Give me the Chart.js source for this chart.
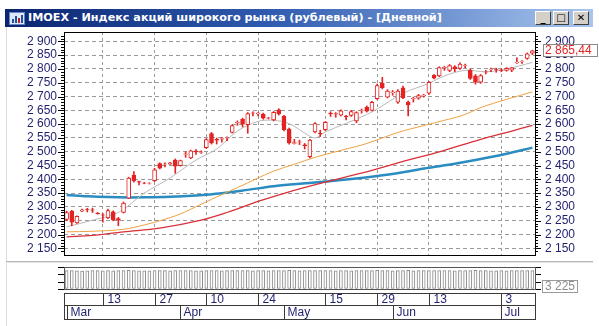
<!DOCTYPE html>
<html>
<head>
<meta charset="utf-8">
<script src="https://cdn.jsdelivr.net/npm/chart.js@4.4.0/dist/chart.umd.min.js"></script>
<style>
  body { margin: 0; background: #fff; }
  #wrap { position: relative; width: 599px; height: 326px; overflow: hidden; background: #fff; }
  #title { position: absolute; left: 5px; top: 9px; width: 588px; height: 18px;
    background: linear-gradient(to right, #0a2470 0%, #2f5bb0 45%, #a8c6ee 100%);
    color: #fff; font: bold 11.2px "DejaVu Sans", sans-serif; line-height: 18px; white-space: nowrap; }
  #title .txt { position: absolute; left: 23px; top: 0; }
  #icon { position: absolute; left: 4px; top: 3px; width: 14px; height: 11px; background: #dfe8f8; border: 1px solid #6a86c0; }
  #icon i { position: absolute; bottom: 1px; width: 2px; background: #2050a0; }
  .btn { position: absolute; top: 2px; width: 16px; height: 14px; background: #d4d0c8; box-sizing: border-box;
    border: 1px solid; border-color: #fff #404040 #404040 #fff; color: #000; font: bold 10px "DejaVu Sans"; line-height: 12px; text-align: center; }
  #sep { position: absolute; left: 6px; top: 261px; width: 587px; height: 1px; background: #b8b8b8; }
  #sep2 { position: absolute; left: 6px; top: 262px; width: 587px; height: 1px; background: #e4e4e4; }
  #edge { position: absolute; left: 6px; top: 27px; width: 1px; height: 299px; background: #dcdcdc; }
  canvas { position: absolute; left: 0; }
  #main { top: 22px; }
  #vol { top: 262px; }
</style>
</head>
<body>
<div id="wrap">
  <div id="edge"></div>
  <div id="title">
    <div id="icon"><i style="left:2px;height:4px"></i><i style="left:5px;height:7px"></i><i style="left:8px;height:5px;background:#c02020"></i><i style="left:11px;height:8px"></i></div>
    <span class="txt">IMOEX - Индекс акций широкого рынка (рублевый) - [Дневной]</span>
    <div class="btn" style="left:530px">_</div>
    <div class="btn" style="left:548px">□</div>
    <div class="btn" style="left:568px">✕</div>
  </div>
  <canvas id="main" width="599" height="240"></canvas>
  <div id="sep"></div><div id="sep2"></div>
  <canvas id="vol" width="599" height="64"></canvas>
</div>
<script>
// торговые дни 2023
const marDays = [1,2,3,6,7,9,10,13,14,15,16,17,20,21,22,23,24,27,28,29,30,31];
const aprDays = [3,4,5,6,7,10,11,12,13,14,17,18,19,20,21,24,25,26,27,28];
const mayDays = [2,3,4,5,8,10,11,12,15,16,17,18,19,22,23,24,25,26,29,30,31];
const junDays = [1,2,5,6,7,8,9,13,14,15,16,19,20,21,22,23,26,27,28,29,30];
const julDays = [3,4,5,6,7,10,11];

const dates = [];
[[marDays, "03"], [aprDays, "04"], [mayDays, "05"], [junDays, "06"], [julDays, "07"]].forEach(([days, m]) => {
  days.forEach(d => dates.push(String(d).padStart(2, "0") + "." + m));
});

// подписи шкалы времени
const dayMarks = ["13.03", "27.03", "10.04", "24.04", "15.05", "29.05", "13.06", "03.07"];
const dayText = ["13", "27", "10", "24", "15", "29", "13", "3"];
const monthMarks = ["01.03", "03.04", "02.05", "01.06", "03.07"];
const monthText = ["Mar", "Apr", "May", "Jun", "Jul"];

// свечи
const open = [2255,2285,2242,2285,2291,2290,2278,2272,2260,2282,2258,2280,2332,2415,2392,2387,2386,2395,2457,2455,2455,2470,2450,2490,2478,2503,2498,2515,2566,2545,2546,2550,2570,2605,2618,2598,2640,2638,2636,2622,2615,2652,2628,2582,2530,2535,2525,2482,2572,2568,2580,2640,2636,2633,2628,2632,2612,2650,2662,2650,2692,2748,2698,2714,2680,2732,2680,2692,2694,2702,2712,2777,2775,2805,2795,2808,2802,2813,2796,2775,2752,2788,2798,2799,2796,2795,2796,2822,2826,2838,2857];
const high = [2285,2288,2268,2292,2295,2296,2280,2276,2292,2286,2262,2318,2408,2428,2394,2389,2388,2440,2460,2460,2462,2474,2470,2500,2506,2508,2503,2548,2570,2550,2552,2554,2598,2612,2622,2642,2645,2642,2640,2625,2646,2656,2632,2586,2545,2542,2530,2545,2606,2578,2610,2645,2642,2652,2632,2650,2645,2655,2666,2683,2745,2770,2725,2722,2725,2738,2684,2698,2708,2708,2755,2780,2808,2810,2816,2812,2822,2818,2800,2780,2780,2795,2803,2803,2800,2805,2806,2840,2830,2858,2868];
const low = [2250,2232,2240,2283,2282,2280,2274,2245,2258,2250,2232,2278,2330,2390,2380,2384,2383,2392,2438,2445,2454,2422,2448,2480,2475,2490,2494,2512,2528,2528,2535,2540,2568,2596,2590,2567,2630,2630,2618,2619,2612,2633,2576,2528,2528,2526,2510,2478,2568,2555,2576,2628,2625,2630,2615,2628,2605,2640,2644,2648,2690,2728,2695,2705,2675,2692,2630,2680,2690,2698,2708,2764,2772,2795,2790,2790,2798,2805,2762,2745,2748,2782,2790,2788,2790,2792,2790,2820,2820,2835,2852];
const close = [2280,2245,2266,2290,2290,2288,2276,2270,2287,2253,2252,2314,2405,2395,2390,2386,2387,2435,2441,2456,2460,2448,2468,2493,2503,2500,2500,2544,2532,2542,2548,2551,2595,2607,2600,2638,2641,2640,2622,2623,2643,2637,2580,2532,2533,2536,2522,2542,2602,2566,2607,2637,2638,2648,2626,2646,2642,2651,2647,2679,2740,2732,2720,2716,2720,2696,2670,2694,2704,2705,2752,2767,2805,2806,2812,2800,2818,2814,2766,2752,2776,2790,2799,2798,2795,2802,2804,2824,2827,2855,2865.44];

// скользящие средние (индекс дня, значение)
const grayDays = [0,5,10,15,20,25,29,33,37,40,43,46,48,50,54,58,60,65,70,73,77,81,85,90];
const grayVals = [2228,2252,2280,2350,2405,2470,2510,2575,2610,2614,2602,2568,2550,2572,2603,2635,2655,2712,2748,2775,2795,2790,2800,2824];
const orangeDays = [0,5,11,15,18,22,26,30,33,37,40,44,48,53,58,64,69,73,77,80,85,90];
const orangeVals = [2210,2212,2219,2235,2250,2275,2310,2345,2370,2405,2430,2455,2480,2505,2530,2570,2595,2614,2635,2660,2690,2717];
const redDays = [0,5,11,18,26,31,37,43,51,59,64,72,80,86,90];
const redVals = [2192,2197,2210,2223,2252,2280,2320,2355,2395,2433,2460,2500,2545,2575,2596];
const blueDays = [0,3,6,10,15,20,25,30,35,40,45,50,55,60,65,70,75,80,85,90];
const blueVals = [2343,2340,2337,2335,2335,2337,2342,2350,2362,2375,2384,2392,2401,2412,2426,2442,2457,2474,2493,2515];

// нижняя панель
const volume = [2760,2780,2740,2700,2720,2760,2750,2730,2770,2740,2760,2780,2790,2770,2730,2720,2740,2760,2750,2770,2740,2760,2750,2770,2780,2740,2730,2760,2780,2750,2740,2760,2770,2750,2760,2780,2740,2760,2750,2740,2770,2760,2780,2790,2760,2740,2750,2780,2770,2760,2750,2760,2740,2750,2760,2730,2760,2750,2770,2760,2790,2780,2760,2740,2770,2780,2790,2740,2750,2760,2780,2770,2780,2750,2760,2740,2770,2750,2780,2790,2770,2750,2740,2730,2750,2740,2760,2770,2750,2780,2760];
const volumeLabel = "3 225";

const RED = "#e32323";
const NAVY = "#1f1f6e";

function fmt(v) {
  return Math.floor(v / 1000) + " " + String(Math.round(v % 1000)).padStart(3, "0");
}
function line(days, vals) {
  return days.map((d, k) => ({ x: dates[d], y: vals[k] }));
}

// рамка и мелкие риски по осям
const frameTicks = {
  id: "frameTicks",
  afterDraw(chart) {
    const { ctx, chartArea: a } = chart;
    ctx.save();
    ctx.strokeStyle = "#000";
    ctx.lineWidth = 1;
    Object.values(chart.scales).forEach(s => {
      if (s.axis !== "y") return;
      const minor = chart.options.plugins.frameTicks.minor;
      s.ticks.forEach(t => {
        const y = Math.round(s.getPixelForValue(t.value)) + 0.5;
        const len = (minor && t.value % 50 !== 0) ? 3 : 6;
        ctx.beginPath();
        if (s.position === "left") { ctx.moveTo(a.left - len, y); ctx.lineTo(a.left, y); }
        else { ctx.moveTo(a.right, y); ctx.lineTo(a.right + len, y); }
        ctx.stroke();
      });
    });
    ctx.strokeStyle = chart.options.plugins.frameTicks.color;
    ctx.strokeRect(Math.round(a.left) + 0.5, Math.round(a.top) + 0.5, Math.round(a.right - a.left), Math.round(a.bottom - a.top));
    ctx.restore();
  }
};

const priceBox = {
  id: "priceBox",
  afterDraw(chart) {
    const { ctx } = chart;
    const s = chart.scales.yR;
    const last = close[close.length - 1];
    const y = Math.round(s.getPixelForValue(last));
    ctx.save();
    ctx.fillStyle = "#fff";
    ctx.fillRect(543, y - 7, 55, 13);
    ctx.strokeStyle = "#8a8a8a";
    ctx.strokeRect(543.5, y - 6.5, 54, 12);
    ctx.fillStyle = RED;
    ctx.font = "12px 'Liberation Sans'";
    ctx.textBaseline = "middle";
    ctx.fillText(last.toFixed(2).replace(".", ",").replace(/^(\d)(\d{3})/, "$1 $2"), 545, y);
    ctx.restore();
  }
};

const yBase = {
  min: 2126, max: 2934,
  afterBuildTicks: s => { s.ticks = s.ticks.filter(t => t.value % 10 === 0); },
  border: { display: false, dash: [4, 3] },
  ticks: { stepSize: 10, autoSkip: false, color: NAVY, font: { family: "Liberation Sans", size: 12 },
    callback: v => v % 50 === 0 ? fmt(v) : "" }
};

new Chart(document.getElementById("main"), {
  type: "bar",
  data: {
    labels: dates,
    datasets: [
      { type: "line", data: line(grayDays, grayVals), borderColor: "#b9b9b9", borderWidth: 1, pointRadius: 0, tension: 0.35, yAxisID: "yL", order: 3 },
      { type: "line", data: line(orangeDays, orangeVals), borderColor: "#f0a040", borderWidth: 1, pointRadius: 0, tension: 0.35, yAxisID: "yL", order: 4 },
      { type: "line", data: line(redDays, redVals), borderColor: "#d83038", borderWidth: 1.3, pointRadius: 0, tension: 0.35, yAxisID: "yL", order: 5 },
      { type: "line", data: line(blueDays, blueVals), borderColor: "#2a8cc0", borderWidth: 2.5, pointRadius: 0, tension: 0.35, yAxisID: "yL", order: 6 },
      { data: low.map((l, i) => [l, high[i]]), backgroundColor: RED, barThickness: 1, grouped: false, yAxisID: "yL", order: 2 },
      { data: open.map((o, i) => [o, close[i]]), backgroundColor: c => close[c.dataIndex] < open[c.dataIndex] ? RED : "#fff",
        borderColor: RED, borderWidth: 1, borderSkipped: false, barThickness: 4, grouped: false, yAxisID: "yL", order: 1 }
    ]
  },
  options: {
    responsive: false, animation: false,
    layout: { padding: { top: 10, bottom: 7 } },
    plugins: { legend: { display: false }, tooltip: { enabled: false }, frameTicks: { minor: true, color: "#000" } },
    scales: {
      x: {
        offset: true,
        grid: { offset: false, drawTicks: false, color: c => dayMarks.includes(dates[c.index]) ? "#9a9a9a" : "rgba(0,0,0,0)" },
        border: { display: false, dash: [3, 3] },
        ticks: { display: false, autoSkip: false },
        afterFit: s => { s.height = 0; }
      },
      yL: { ...yBase, position: "left",
        grid: { drawTicks: false, color: c => c.tick && c.tick.value % 50 === 0 ? "#9a9a9a" : "rgba(0,0,0,0)" },
        ticks: { ...yBase.ticks, padding: 7 },
        afterFit: s => { s.width = 64; s.paddingTop = 0; s.paddingBottom = 0; } },
      yR: { ...yBase, position: "right",
        grid: { drawTicks: false, drawOnChartArea: false },
        ticks: { ...yBase.ticks, padding: 10 },
        afterFit: s => { s.width = 64; s.paddingTop = 0; s.paddingBottom = 0; } }
    }
  },
  plugins: [frameTicks, priceBox]
});

// шкала дат под панелью
const timeRows = {
  id: "timeRows",
  afterDraw(chart) {
    const { ctx, chartArea: a } = chart;
    const xs = chart.scales.x;
    const r1 = Math.round(a.bottom) + 4.5, r2 = r1 + 12, r3 = r2 + 14;
    const L = Math.round(a.left) + 0.5, R = Math.round(a.right) + 0.5;
    ctx.save();
    ctx.strokeStyle = "#3a3a3a";
    ctx.lineWidth = 1;
    ctx.strokeRect(L, r1, R - L, r2 - r1);
    ctx.strokeRect(L, r2, R - L, r3 - r2);
    ctx.font = "12px 'Liberation Sans'";
    ctx.fillStyle = NAVY;
    ctx.textBaseline = "middle";
    dayMarks.forEach((d, k) => {
      const x = Math.round(xs.getPixelForValue(dates.indexOf(d))) + 0.5;
      ctx.beginPath(); ctx.moveTo(x, r1); ctx.lineTo(x, r2); ctx.stroke();
      ctx.fillText(dayText[k], x + 4, (r1 + r2) / 2 + 0.5);
    });
    monthMarks.forEach((d, k) => {
      const x = Math.round(xs.getPixelForValue(dates.indexOf(d))) + 0.5;
      ctx.beginPath(); ctx.moveTo(x, r2); ctx.lineTo(x, r3); ctx.stroke();
      ctx.fillText(monthText[k], x + 3, (r2 + r3) / 2 + 0.5);
    });
    // подпись значения справа
    const by = Math.round(a.bottom) - 8.5;
    ctx.strokeStyle = "#9a9a9a";
    ctx.strokeRect(542.5, by, 35, 12);
    ctx.fillStyle = "#8c8c8c";
    ctx.fillText(volumeLabel, 545, by + 6.5);
    ctx.restore();
  }
};

const vBase = {
  min: 0, max: 3300,
  border: { display: false },
  grid: { drawTicks: false, drawOnChartArea: false },
  ticks: { stepSize: 1100, display: false },
  afterFit: s => { s.width = 64; s.paddingTop = 0; s.paddingBottom = 0; }
};

new Chart(document.getElementById("vol"), {
  type: "bar",
  data: {
    labels: dates,
    datasets: [{ data: volume, backgroundColor: "#fff", borderColor: "#8a8a8a", borderWidth: 1, borderSkipped: false, barThickness: 3, yAxisID: "vL" }]
  },
  options: {
    responsive: false, animation: false,
    layout: { padding: { top: 5, bottom: 37 } },
    plugins: { legend: { display: false }, tooltip: { enabled: false }, frameTicks: { minor: false, color: "#555" } },
    scales: {
      x: { offset: true, grid: { display: false }, border: { display: false }, ticks: { display: false, autoSkip: false }, afterFit: s => { s.height = 0; } },
      vL: { ...vBase, position: "left" },
      vR: { ...vBase, position: "right" }
    }
  },
  plugins: [frameTicks, timeRows]
});
</script>
</body>
</html>
